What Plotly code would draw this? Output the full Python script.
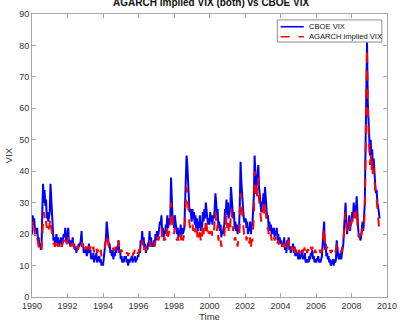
import plotly.graph_objects as go

# Semi-monthly samples (24 per year)
years = list(range(1990, 2010))

cboe_vix = {
    1990: [20,26,23,25,21,22,20,22,18,19,16,17,15,17,28,36,30,34,29,31,25,27,24,25],
    1991: [27,36,30,24,20,18,19,17,18,20,17,19,16,18,17,19,16,17,18,20,19,22,18,17],
    1992: [20,22,17,18,16,18,17,19,16,17,15,16,14,16,15,17,16,17,18,21,16,17,14,15],
    1993: [14,16,13,14,15,17,14,15,12,13,12,14,11,13,12,14,11,12,12,13,11,12,10,11],
    1994: [10,12,13,16,19,24,20,18,16,17,14,15,13,15,12,14,13,15,14,16,15,18,14,15],
    1995: [12,13,11,12,11,13,12,13,11,12,10,12,11,12,12,13,11,12,12,13,11,12,12,13],
    1996: [13,15,14,18,17,21,17,19,15,17,14,16,15,17,17,21,16,19,16,17,16,18,17,20],
    1997: [18,21,19,20,22,24,23,26,20,22,19,21,20,23,22,26,22,25,23,25,38,30,25,24],
    1998: [22,26,23,21,20,22,19,21,20,23,19,22,20,21,22,30,38,45,42,36,30,27,28,25],
    1999: [24,28,25,27,23,26,22,25,21,24,22,26,21,24,22,27,24,28,25,30,27,24,23,25],
    2000: [23,27,24,26,23,26,25,28,33,30,26,28,22,24,21,23,19,21,20,22,23,28,27,31],
    2001: [26,30,25,28,27,35,31,29,25,27,22,24,21,23,20,22,22,30,43,37,32,29,26,24],
    2002: [24,25,22,24,20,22,21,24,20,23,23,28,32,45,38,34,36,40,42,35,31,29,27,30],
    2003: [30,33,29,35,31,27,25,26,22,24,21,23,20,22,20,22,19,21,20,22,18,20,17,19],
    2004: [17,18,16,17,16,19,15,17,14,18,17,19,15,16,14,16,15,17,14,16,13,15,13,14],
    2005: [12,14,12,13,13,15,12,13,12,14,11,12,11,12,11,13,12,14,13,15,12,13,11,12],
    2006: [11,12,12,13,11,12,11,12,13,17,21,24,15,17,13,14,12,13,11,12,10,11,11,12],
    2007: [10,12,11,12,18,14,13,12,13,14,12,14,15,17,22,28,30,24,20,22,23,26,21,23],
    2008: [24,27,25,30,26,29,27,32,24,22,19,20,18,19,22,24,21,24,30,48,68,81,62,55],
    2009: [55,45,50,42,47,40,44,38,36,33,34,30,29,27,25],
}

agarch_vix = {
    1990: [22,24,21,22,20,19,18,19,17,16,16,15,16,15,20,26,27,25,26,24,22,23,21,22],
    1991: [23,25,22,20,18,17,17,16,17,18,16,17,16,17,17,18,16,17,17,18,18,19,17,17],
    1992: [18,19,17,17,16,17,17,17,16,16,15,16,15,16,15,16,16,17,17,18,16,17,15,16],
    1993: [15,16,15,15,16,17,15,16,15,15,14,16,14,15,15,16,14,15,14,15,14,15,13,14],
    1994: [14,15,15,16,18,20,18,17,16,16,15,15,15,16,15,15,15,16,15,16,16,18,15,16],
    1995: [14,15,14,14,14,15,14,14,14,14,13,14,13,14,14,14,13,14,14,15,13,14,14,14],
    1996: [14,15,15,17,16,18,16,17,15,16,15,15,15,16,16,18,16,17,16,16,16,17,16,18],
    1997: [17,19,18,18,19,20,20,22,18,19,18,19,18,20,19,22,19,21,20,21,30,27,22,21],
    1998: [20,22,20,19,18,19,18,19,18,20,17,19,18,19,20,25,30,35,33,29,25,23,22,21],
    1999: [21,23,21,22,20,22,19,21,18,20,19,22,18,20,19,23,20,23,21,25,22,20,19,21],
    2000: [20,22,20,21,19,21,21,24,27,24,21,23,18,19,17,18,16,17,17,18,19,23,22,26],
    2001: [22,25,21,23,22,28,26,24,21,22,18,19,17,18,16,18,18,24,33,30,26,24,22,20],
    2002: [20,21,18,19,17,18,17,19,16,18,18,22,25,40,35,31,32,36,38,31,28,26,24,26],
    2003: [27,29,26,30,27,24,22,22,20,21,19,20,18,19,18,19,18,19,18,19,17,18,16,17],
    2004: [17,17,16,17,16,18,16,17,15,17,17,18,15,16,15,16,15,16,15,16,14,15,14,15],
    2005: [14,15,14,15,15,16,14,15,15,16,14,15,14,15,15,16,15,16,15,16,15,16,14,15],
    2006: [14,15,15,15,14,15,14,15,15,18,20,22,17,18,15,16,15,15,14,15,14,15,14,15],
    2007: [14,14,14,15,17,16,15,15,15,15,14,15,16,18,21,26,27,23,21,22,22,24,21,22],
    2008: [23,25,24,27,25,27,25,28,22,21,19,20,18,19,21,22,21,23,28,45,65,79,60,52],
    2009: [48,42,46,40,44,38,41,36,33,31,31,28,26,24,20],
}

x_ticks = [1990, 1992, 1994, 1996, 1998, 2000, 2002, 2004, 2006, 2008, 2010]
y_ticks = [0, 10, 20, 30, 40, 50, 60, 70, 80, 90]
series_names = ["CBOE VIX", "AGARCH implied VIX"]
series_colors = ["#0000ff", "#ff0000"]
series_dash = ["solid", "dash"]


def flatten(series):
    t, v = [], []
    for yr in years:
        vals = series[yr]
        for i, val in enumerate(vals):
            t.append(yr + i / 24.0)
            v.append(val)
    return t, v


t_cboe, v_cboe = flatten(cboe_vix)
t_ag, v_ag = flatten(agarch_vix)

fig = go.Figure()
for (t, v), name, col, dash in zip([(t_cboe, v_cboe), (t_ag, v_ag)], series_names,
                                   series_colors, series_dash):
    fig.add_trace(go.Scatter(x=t, y=v, mode="lines", name=name, showlegend=False,
                             line=dict(color=col, width=2, dash=dash)))

axis_common = dict(showline=True, mirror="ticks", linecolor="#a6a6a6", linewidth=1,
                   ticks="inside", ticklen=4, tickcolor="#a6a6a6", showgrid=False,
                   zeroline=False, tickfont=dict(size=9, color="#333333"),
                   title_font=dict(size=9.5, color="#333333"),
                   ticklabeloverflow="allow")

fig.update_xaxes(range=[1990, 2010], tickvals=x_ticks, ticktext=[str(v) for v in x_ticks],
                 title_text="Time", title_standoff=2, **axis_common)
fig.update_yaxes(range=[0, 90], tickvals=y_ticks, title_text="VIX", title_standoff=4,
                 **axis_common)

# Manual MATLAB-style legend (box, line samples, labels) in paper coordinates
lx0, lx1, ly0, ly1 = 0.691, 0.9856, 0.901, 0.979
shapes = [dict(type="rect", xref="paper", yref="paper", x0=lx0, x1=lx1, y0=ly0, y1=ly1,
               line=dict(color="#8c8c8c", width=1), fillcolor="white", layer="above")]
annotations = []
row_y = [0.955, 0.9197]
for ry, name, col, dash in zip(row_y, series_names, series_colors, series_dash):
    shapes.append(dict(type="line", xref="paper", yref="paper", x0=0.7003, x1=0.7657,
                       y0=ry, y1=ry, line=dict(color=col, width=1.6, dash=dash),
                       layer="above"))
    annotations.append(dict(xref="paper", yref="paper", x=0.774, y=ry, text=name,
                            showarrow=False, xanchor="left", yanchor="middle",
                            font=dict(size=7.6, color="#111111")))

fig.update_layout(
    width=406, height=328,
    margin=dict(l=29, r=10, t=9, b=29),
    paper_bgcolor="white", plot_bgcolor="white",
    font=dict(family="Liberation Sans, Arial, sans-serif", color="#333333"),
    title=dict(text="<b>AGARCH implied VIX (both) vs CBOE VIX</b>", x=0.52, xanchor="center",
               y=0.992, yanchor="middle", yref="container",
               font=dict(size=10, color="#111111")),
    shapes=shapes,
    annotations=annotations,
    showlegend=False,
)

fig.write_html("out.html", config={"displayModeBar": False},
               post_script="document.body.style.margin='0px';")
